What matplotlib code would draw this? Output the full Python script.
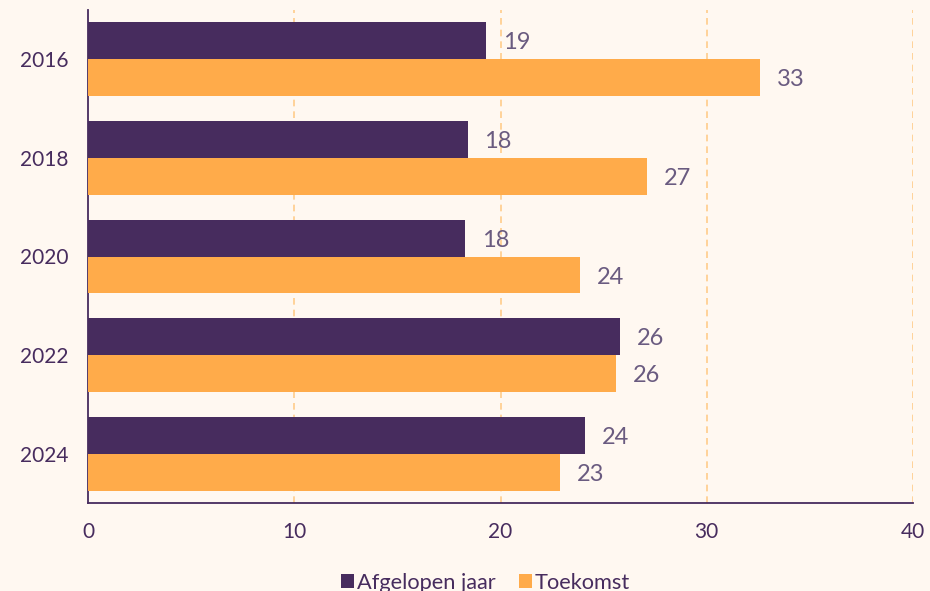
import matplotlib
matplotlib.use("Agg")
import matplotlib.pyplot as plt
import numpy as np

years = ["2016", "2018", "2020", "2022", "2024"]
past = [19.3, 18.4, 18.3, 25.8, 24.1]
future = [32.6, 27.1, 23.85, 25.6, 22.9]
past_labels = ["19", "18", "18", "26", "24"]
future_labels = ["33", "27", "24", "26", "23"]
series_names = ["Afgelopen jaar", "Toekomst"]
xticks = [0, 10, 20, 30, 40]

bg = "#FFF8F1"
purple = "#472C5E"
orange = "#FFAB4A"
textc = "#472C5E"

plt.rcParams['font.family'] = ['Lato', 'DejaVu Sans']

fig = plt.figure(figsize=(9.3, 5.91), dpi=100, facecolor=bg)
ax = fig.add_axes([88/930, 88/591, 825/930, 493/591], facecolor=bg)

y = np.arange(len(years))
h = 0.375
ax.barh(y - h/2, past, height=h, color=purple, label=series_names[0], zorder=3)
ax.barh(y + h/2, future, height=h, color=orange, label=series_names[1], zorder=3)

for yi, v, t in zip(y, past, past_labels):
    ax.annotate(t, (v, yi - h/2), xytext=(12, -1.5), textcoords="offset points",
                va="center", ha="left", fontsize=17, color="#6A5B80")
for yi, v, t in zip(y, future, future_labels):
    ax.annotate(t, (v, yi + h/2), xytext=(12, -1.5), textcoords="offset points",
                va="center", ha="left", fontsize=17, color="#6A5B80")

ax.set_xlim(0, 40)
ax.set_ylim(4.5, -0.5)
ax.set_yticks(y)
ax.set_yticklabels(years)
ax.set_xticks(xticks)
ax.set_xticklabels([str(t) for t in xticks])
ax.tick_params(axis="both", length=0, labelsize=15, colors=textc)
ax.tick_params(axis="x", pad=14)
ax.tick_params(axis="y", pad=14)

for xv in xticks[1:]:
    ax.axvline(xv, color="#FFCC8A", linestyle=(0, (4, 3)), linewidth=1.2, zorder=1)

for s in ["top", "right"]:
    ax.spines[s].set_visible(False)
for s in ["left", "bottom"]:
    ax.spines[s].set_color(purple)
    ax.spines[s].set_linewidth(1.3)

leg = fig.legend(loc="lower center", bbox_to_anchor=(0.522, -0.036), ncol=2, frameon=False,
                 fontsize=15.7, handlelength=0.6, handleheight=0.6, handletextpad=0.15,
                 columnspacing=1.05, labelcolor=textc)

fig.savefig("out.png", dpi=100, facecolor=bg)
